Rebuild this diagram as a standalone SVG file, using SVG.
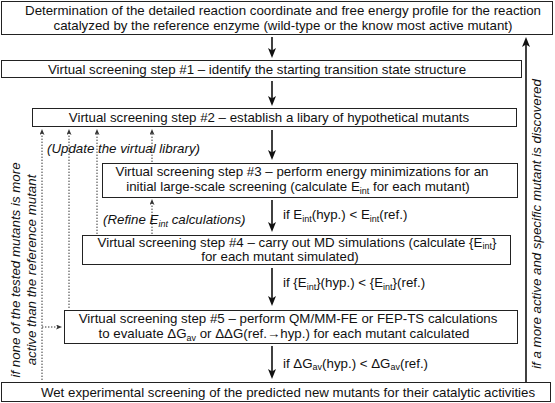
<svg xmlns="http://www.w3.org/2000/svg" width="555" height="403" viewBox="0 0 555 403">
<defs>
<style>
.box{fill:#fff;stroke:#222;stroke-width:1}
.t{font-family:"Liberation Sans",Arial,sans-serif;font-size:13.3px;fill:#111}
.m{text-anchor:middle}
.i{font-style:italic}
.s{font-size:9px}
.flow{stroke:#111;stroke-width:1.6;fill:none}
.dot{stroke:#333;stroke-width:1;stroke-dasharray:1.4,1.6;fill:none}
</style>
<marker id="ah" viewBox="0 0 10 8" refX="4" refY="4" markerWidth="10" markerHeight="8" orient="auto" markerUnits="userSpaceOnUse">
<path d="M0,0 L10,4 L0,8 L2.5,4 z" fill="#111"/>
</marker>
<marker id="ahs" viewBox="0 0 6 5" refX="2" refY="2.5" markerWidth="6" markerHeight="5" orient="auto" markerUnits="userSpaceOnUse">
<path d="M0,0 L6,2.5 L0,5 L1.5,2.5 z" fill="#333"/>
</marker>
</defs>
<rect width="555" height="403" fill="#fff"/>

<g id="connectors">
<line class="flow" x1="272" y1="37" x2="272" y2="52" marker-end="url(#ah)"/>
<line class="flow" x1="272" y1="81" x2="272" y2="100" marker-end="url(#ah)"/>
<line class="flow" x1="272" y1="130" x2="272" y2="154" marker-end="url(#ah)"/>
<line class="flow" x1="272" y1="200" x2="272" y2="226" marker-end="url(#ah)"/>
<line class="flow" x1="272" y1="268" x2="272" y2="300" marker-end="url(#ah)"/>
<line class="flow" x1="272" y1="346" x2="272" y2="373" marker-end="url(#ah)"/>
<line class="flow" x1="526" y1="382" x2="526" y2="43" marker-end="url(#ah)"/>
<line class="dot" x1="42" y1="380" x2="42" y2="133" marker-end="url(#ahs)"/>
<line class="dot" x1="42" y1="327" x2="58" y2="327" marker-end="url(#ahs)"/>
<line class="dot" x1="69" y1="308" x2="69" y2="133" marker-end="url(#ahs)"/>
<line class="dot" x1="97" y1="234" x2="97" y2="133" marker-end="url(#ahs)"/>
<line class="dot" x1="152" y1="162" x2="152" y2="133" marker-end="url(#ahs)"/>
<line class="dot" x1="152" y1="234" x2="152" y2="203" marker-end="url(#ahs)"/>
<text class="t" x="283" y="219">if E<tspan class="s" dy="2.5">int</tspan><tspan dy="-2.5">(hyp.) &lt; E</tspan><tspan class="s" dy="2.5">int</tspan><tspan dy="-2.5">(ref.)</tspan></text>
<text class="t" x="283" y="287">if {E<tspan class="s" dy="2.5">int</tspan><tspan dy="-2.5">}(hyp.) &lt; {E</tspan><tspan class="s" dy="2.5">int</tspan><tspan dy="-2.5">}(ref.)</tspan></text>
<text class="t" x="283" y="367.5">if ΔG<tspan class="s" dy="2.5">av</tspan><tspan dy="-2.5">(hyp.) &lt; ΔG</tspan><tspan class="s" dy="2.5">av</tspan><tspan dy="-2.5">(ref.)</tspan></text>
<text class="t i" x="47" y="153">(Update the virtual library)</text>
<text class="t i" x="103" y="224">(Refine E<tspan class="s" dy="2.5">int</tspan><tspan dy="-2.5"> calculations)</tspan></text>
<text class="t i m" transform="translate(20,270) rotate(-90)">if none of the tested mutants is more</text>
<text class="t i m" transform="translate(36,270) rotate(-90)">active than the reference mutant</text>
<text class="t i m" transform="translate(541,224) rotate(-90)">if a more active and specific mutant is discovered</text>
</g>

<g id="n0">
<rect class="box" x="1.5" y="1.5" width="551" height="33"/>
<text class="t m" x="283" y="15">Determination of the detailed reaction coordinate and free energy profile for the reaction</text>
<text class="t m" x="283" y="30">catalyzed by the reference enzyme (wild-type or the know most active mutant)</text>
</g>
<g id="n1">
<rect class="box" x="1.5" y="60.5" width="520" height="17"/>
<text class="t m" x="257" y="73.5">Virtual screening step #1 – identify the starting transition state structure</text>
</g>
<g id="n2">
<rect class="box" x="32.5" y="108.5" width="484" height="18"/>
<text class="t m" x="269" y="122">Virtual screening step #2 – establish a libary of hypothetical mutants</text>
</g>
<g id="n3">
<rect class="box" x="102.5" y="163.5" width="415" height="34"/>
<text class="t m" x="302" y="176">Virtual screening step #3 – perform energy minimizations for an</text>
<text class="t m" x="298" y="191">initial large-scale screening (calculate E<tspan class="s" dy="2.5">int</tspan><tspan dy="-2.5"> for each mutant)</tspan></text>
</g>
<g id="n4">
<rect class="box" x="82.5" y="235.5" width="428" height="29"/>
<text class="t m" x="297" y="247">Virtual screening step #4 – carry out MD simulations (calculate {E<tspan class="s" dy="2">int</tspan><tspan dy="-2">}</tspan></text>
<text class="t m" x="280" y="261">for each mutant simulated)</text>
</g>
<g id="n5">
<rect class="box" x="64.5" y="310.5" width="453" height="33"/>
<text class="t m" x="288" y="322.5">Virtual screening step #5 – perform QM/MM-FE or FEP-TS calculations</text>
<text class="t m" x="284" y="338">to evaluate ΔG<tspan class="s" dy="2.5">av</tspan><tspan dy="-2.5"> or ΔΔG(ref.→hyp.) for each mutant calculated</tspan></text>
</g>
<g id="n6">
<rect class="box" x="1.5" y="382.5" width="549" height="19"/>
<text class="t m" x="288" y="396.5">Wet experimental screening of the predicted new mutants for their catalytic activities</text>
</g>
</svg>
